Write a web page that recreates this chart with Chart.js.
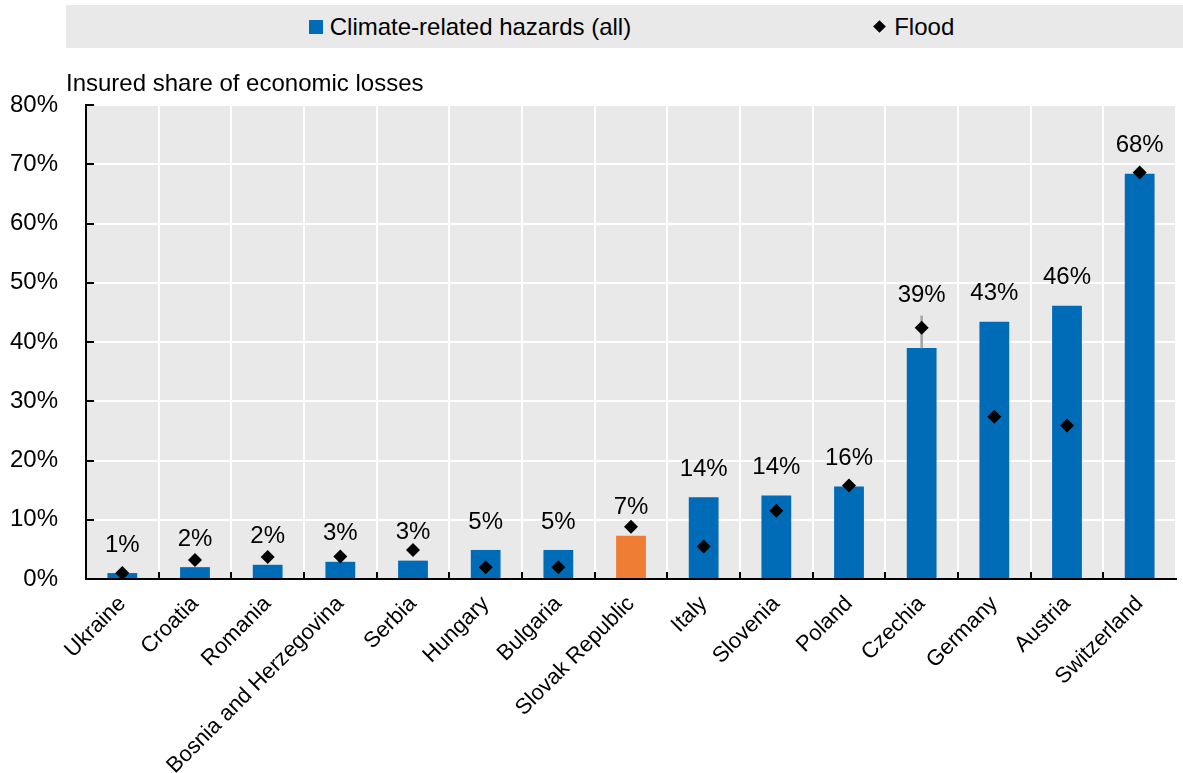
<!DOCTYPE html>
<html>
<head>
<meta charset="utf-8">
<title>Insured share of economic losses</title>
<script src="https://cdn.jsdelivr.net/npm/chart.js@4.4.1/dist/chart.umd.min.js"></script>
<style>
  html, body { margin: 0; padding: 0; background: #fff; }
  #wrap { position: relative; width: 1183px; height: 773px; }
  #legend {
    position: absolute; left: 66px; top: 5px; width: 1117px; height: 43px; box-sizing: border-box; padding-left: 14px;
    background: #e9e9e9; display: flex; align-items: center; justify-content: center; gap: 244px;
    font-family: 'Liberation Sans', Arial, sans-serif;
    font-size: 24px; color: #000;
  }
  #legend .item { display: flex; align-items: center; }
  #legend .sq { width: 14px; height: 14px; background: #006bb6; margin-right: 7px; }
  #legend .dm { width: 9px; height: 9px; background: #000; transform: rotate(45deg); margin-right: 10px; }
  canvas { position: absolute; left: 0; top: 0; }
</style>
</head>
<body>
<div id="wrap">
  <canvas id="chart" width="1183" height="773"></canvas>
  <div id="legend">
    <div class="item"><span class="sq"></span>Climate-related hazards (all)</div>
    <div class="item"><span class="dm"></span>Flood</div>
  </div>
</div>
<script>
const countries = ['Ukraine', 'Croatia', 'Romania', 'Bosnia and Herzegovina', 'Serbia', 'Hungary', 'Bulgaria',
  'Slovak Republic', 'Italy', 'Slovenia', 'Poland', 'Czechia', 'Germany', 'Austria', 'Switzerland'];
// insured share, all climate-related hazards (%)
const allHazards = [1.0, 2.0, 2.4, 2.9, 3.1, 4.9, 4.9, 7.3, 13.8, 14.1, 15.6, 39.0, 43.4, 46.1, 68.4];
// insured share, floods only (%)
const flood = [1.0, 3.2, 3.7, 3.8, 4.9, 2.0, 2.0, 8.8, 5.5, 11.5, 15.8, 42.4, 27.4, 25.9, 68.6];
// flood whisker for Czechia
const floodRange = [null, null, null, null, null, null, null, null, null, null, null, [39.0, 44.4], null, null, null];
const yTicks = [0, 10, 20, 30, 40, 50, 60, 70, 80];
const highlight = 'Slovak Republic';

const BLUE = '#006bb6', ORANGE = '#ef7d33', PLOT_BG = '#e9e9e9';
const FONT = "'Liberation Sans', Arial, sans-serif";

const decor = {
  id: 'decor',
  beforeDraw(chart) {
    const { ctx, chartArea: a } = chart;
    ctx.save();
    ctx.fillStyle = PLOT_BG;
    ctx.fillRect(a.left, a.top, a.right - a.left, a.bottom - a.top);
    ctx.restore();
  },
  afterDatasetsDraw(chart) {
    const { ctx } = chart;
    const x = chart.scales.x, y = chart.scales.y;
    ctx.save();
    ctx.fillStyle = '#000';
    ctx.font = '24px ' + FONT;
    ctx.textAlign = 'center';
    ctx.textBaseline = 'middle';
    allHazards.forEach((v, i) => {
      let ly = y.getPixelForValue(v) - 28;
      if (floodRange[i]) ly = Math.min(ly, y.getPixelForValue(floodRange[i][1]) - 21);
      ctx.fillText(Math.round(v) + '%', x.getPixelForValue(i), ly);
    });
    ctx.restore();
  },
  afterDraw(chart) {
    const { ctx, chartArea: a } = chart;
    const x = chart.scales.x, y = chart.scales.y;
    ctx.save();
    ctx.strokeStyle = '#000';
    ctx.lineWidth = 2;
    ctx.beginPath();
    yTicks.forEach(t => {
      const py = Math.round(y.getPixelForValue(t));
      ctx.moveTo(a.left, py); ctx.lineTo(a.left + 8, py);
    });
    for (let i = 1; i < countries.length; i++) {
      const px = Math.round((x.getPixelForValue(i - 1) + x.getPixelForValue(i)) / 2);
      ctx.moveTo(px, a.bottom); ctx.lineTo(px, a.bottom - 7);
    }
    ctx.stroke();
    ctx.fillStyle = '#000';
    ctx.font = '24px ' + FONT;
    ctx.textAlign = 'left';
    ctx.textBaseline = 'alphabetic';
    ctx.fillText('Insured share of economic losses', a.left - 20, a.top - 14);
    ctx.restore();
  }
};

new Chart(document.getElementById('chart'), {
  data: {
    labels: countries,
    datasets: [
      {
        type: 'line', label: 'Flood', data: flood, showLine: false,
        pointStyle: 'rectRot', pointRadius: 7, pointHoverRadius: 7,
        backgroundColor: '#000', borderColor: '#000', borderWidth: 0, order: 1
      },
      {
        type: 'bar', label: 'Flood range', data: floodRange, backgroundColor: '#a6a6a6',
        barThickness: 2, grouped: false, order: 2
      },
      {
        type: 'bar', label: 'Climate-related hazards (all)', data: allHazards,
        backgroundColor: countries.map(c => c === highlight ? ORANGE : BLUE),
        barPercentage: 0.41, categoryPercentage: 1, grouped: false, order: 3
      }
    ]
  },
  options: {
    responsive: false,
    animation: false,
    layout: { padding: { top: 105, left: 0, right: 0, bottom: 0 } },
    plugins: { legend: { display: false }, tooltip: { enabled: false } },
    scales: {
      x: {
        offset: true,
        grid: { color: '#fff', lineWidth: 2, drawTicks: false, offset: true },
        border: { color: '#000', width: 2 },
        ticks: { autoSkip: false, minRotation: 45, maxRotation: 45, color: '#000', padding: 12, font: { family: FONT, size: 22 } },
        afterFit: s => { s.height = 194; }
      },
      y: {
        min: 0, max: 80,
        afterBuildTicks: s => { s.ticks = yTicks.map(v => ({ value: v })); },
        grid: { color: '#fff', lineWidth: 2, drawTicks: false },
        border: { color: '#000', width: 2 },
        ticks: { color: '#000', padding: 28, font: { family: FONT, size: 24 }, callback: v => v + '%' },
        afterFit: s => { s.width = 86; }
      }
    }
  },
  plugins: [decor]
});
</script>
</body>
</html>
